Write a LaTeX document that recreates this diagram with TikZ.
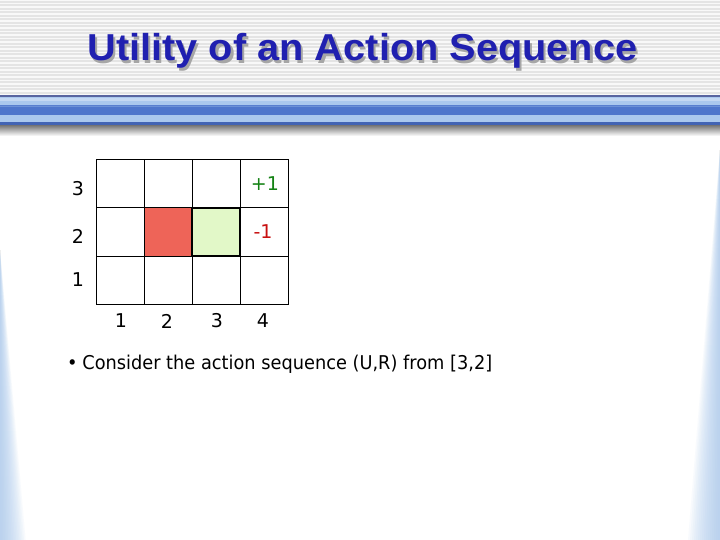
\documentclass[tikz,border=0pt]{standalone}
\usepackage{fontspec}
\setmainfont{DejaVu Sans}
\newfontfamily\titlefont{Liberation Sans}
\definecolor{titleblue}{RGB}{32,32,176}
\definecolor{stripeg}{RGB}{228,228,228}
\definecolor{stripebg}{RGB}{248,248,248}
\definecolor{barline}{RGB}{88,100,160}
\definecolor{barlight}{RGB}{170,200,238}
\definecolor{barmid}{RGB}{78,118,204}
\definecolor{bardark}{RGB}{66,100,180}
\definecolor{edgeblue}{RGB}{168,200,238}
\definecolor{cellred}{RGB}{238,100,88}
\definecolor{cellgreen}{RGB}{226,248,200}
\definecolor{plusgreen}{RGB}{20,130,20}
\definecolor{minusred}{RGB}{200,16,16}
\newcommand{\shadowtitle}[1]{\makebox[0pt][l]{\hspace{2pt}\raisebox{-2.5pt}{\textcolor{black!35}{#1}}}\textcolor{titleblue}{#1}}
\begin{document}
\begin{tikzpicture}[x=1pt,y=-1pt,
  cell/.style={draw=black,line width=1pt,minimum width=48pt,minimum height=48pt,inner sep=0pt,outer sep=0pt},
  lab/.style={font=\fontsize{19}{22}\selectfont,inner sep=0pt,anchor=center},
  bodytext/.style={font=\fontsize{19}{22}\selectfont,inner sep=0pt,anchor=west}]
\useasboundingbox (0,0) rectangle (720,540);
% background
\fill[white] (0,0) rectangle (720,540);
\fill[stripebg] (0,0) rectangle (720,96);
\foreach \i in {0,...,26} { \fill[stripeg] (0,{\i*3.5+1}) rectangle (720,{\i*3.5+2.6}); }
% blue bar
\fill[barlight] (0,96) rectangle (720,125);
\foreach \k in {0,...,8} {
  \pgfmathsetmacro{\p}{100-\k*11}
  \fill[barmid!\p!barlight] (0,{105+\k*0.5}) rectangle (720,{115-\k*0.5});
}
\fill[barmid] (0,107) rectangle (720,115);
\fill[barlight!70!white] (0,98) rectangle (720,101);
\fill[bardark] (0,122.5) rectangle (720,125);
\fill[barline] (0,95.5) rectangle (720,97);
\foreach \k in {0,...,10} {
  \pgfmathsetmacro{\q}{55-\k*5}
  \fill[black!\q] (0,{125+\k}) rectangle (720,{126+\k});
}
% edge gradients
\foreach \k in {1,...,16} {
  \fill[edgeblue,opacity=0.08] (720,150) -- ({720-2*\k},540) -- (720,540) -- cycle;
  \fill[edgeblue,opacity=0.08] (0,250) -- ({1.6*\k},540) -- (0,540) -- cycle;
}
% title
\node[font=\titlefont\bfseries\fontsize{37.5}{42}\selectfont,inner sep=0pt] (title) at (362.5,52.5) {\scalebox{1.06}[1]{\shadowtitle{Utility of an Action Sequence}}};
% grid
\foreach \c/\r in {1/1,2/1,3/1,4/1,1/2,4/2,1/3,2/3,3/3,4/3} {
  \node[cell] (c\c\r) at ({72+48*\c},{328-48*\r}) {};
}
\node[cell,fill=cellred] (c22) at (168,232) {};
\node[cell,fill=cellgreen,line width=2pt] (c32) at (216,232) {};
% cell texts
\node[lab,text=plusgreen] (plus) at (265,184) {+1};
\node[lab,text=minusred] (minus) at (263,232) {-1};
% axis labels
\node[lab] (r3) at (78,189) {3};
\node[lab] (r2) at (78,236) {2};
\node[lab] (r1) at (78,280) {1};
\node[lab] (k1) at (121,321) {1};
\node[lab] (k2) at (167,321) {2};
\node[lab] (k3) at (217,321) {3};
\node[lab] (k4) at (263,321) {4};
% bullet
\node[bodytext] (bullet) at (67,364) {\scalebox{0.935}[1]{•\hspace{5pt}Consider the action sequence (U,R) from [3,2]}};
\end{tikzpicture}
\end{document}
